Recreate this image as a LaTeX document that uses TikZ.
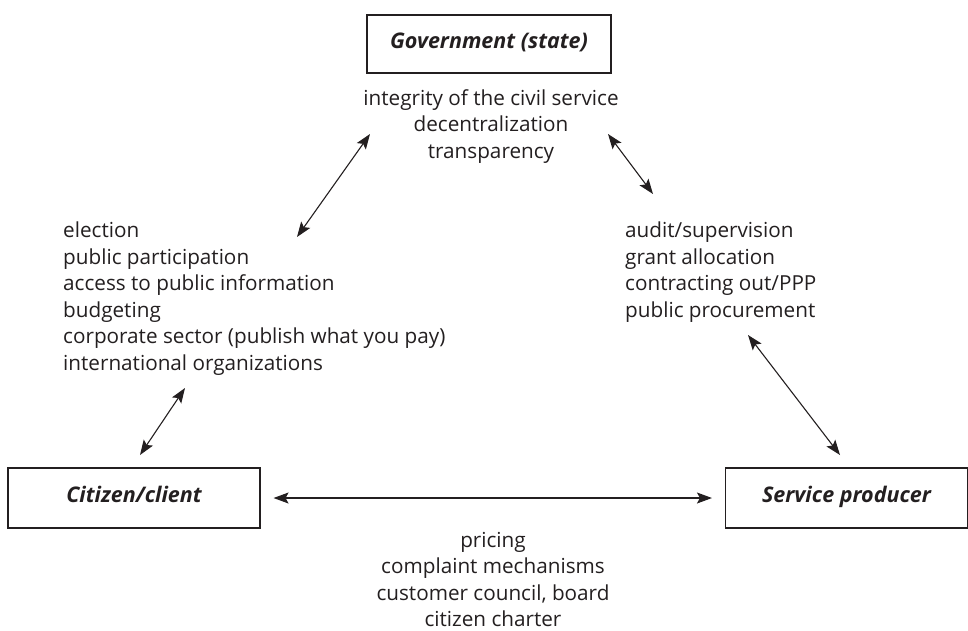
\documentclass[tikz,border=0pt]{standalone}
\usepackage{fontspec}
\setmainfont{Open Sans}
\usetikzlibrary{arrows.meta}
\definecolor{ink}{HTML}{231F20}
\tikzset{
  actor/.style={draw=ink, line width=1.1pt, text=ink, inner sep=0pt,
    text height=0.9em, text depth=0.06em,
    font=\fontsize{21.5}{26}\selectfont\bfseries\itshape},
  items/.style={text=ink, inner sep=0pt, font=\fontsize{20.7}{26.5}\selectfont},
  link/.style={draw=ink, line width=1.1pt,
    {Stealth[length=15pt,width=11pt,inset=3pt]}-{Stealth[length=15pt,width=11pt,inset=3pt]}}
}
\begin{document}
\begin{tikzpicture}[x=1pt,y=-1pt]
\useasboundingbox (0,0) rectangle (968,630);

% the three actors
\node[actor, minimum width=244pt, minimum height=58pt] (gov) at (489,44) {Government (state)};
\node[actor, minimum width=252pt, minimum height=60pt] (cit) at (134,498) {Citizen/client};
\node[actor, minimum width=242pt, minimum height=60pt] (svc) at (846.5,498) {Service producer};

% accountability instruments on each relation
\node[items, align=center, anchor=north] (govlist) at (491,89)
  {integrity of the civil service\\decentralization\\transparency};
\node[items, align=left, anchor=north west] (citlist) at (63,222)
  {election\\public participation\\access to public information\\budgeting\\corporate sector (publish what you pay)\\international organizations};
\node[items, align=left, anchor=north west] (svclist) at (625,222)
  {audit/supervision\\grant allocation\\contracting out/PPP\\public procurement};
\node[items, align=center, anchor=north] (cslist) at (493,532)
  {pricing\\complaint mechanisms\\customer council, board\\citizen charter};

% arrow end points
\coordinate (gl1) at (370,134);
\coordinate (gl2) at (297,237);
\coordinate (gr1) at (608,134);
\coordinate (gr2) at (653,194);
\coordinate (cl1) at (185,388);
\coordinate (cl2) at (140,455);
\coordinate (sr1) at (748,335);
\coordinate (sr2) at (840,455);

\draw[link] (gl1) -- (gl2);
\draw[link] (gr1) -- (gr2);
\draw[link] (cl1) -- (cl2);
\draw[link] (sr1) -- (sr2);
\draw[link] ([xshift=13pt]cit.east) -- ([xshift=-13pt]svc.west);
\end{tikzpicture}
\end{document}
